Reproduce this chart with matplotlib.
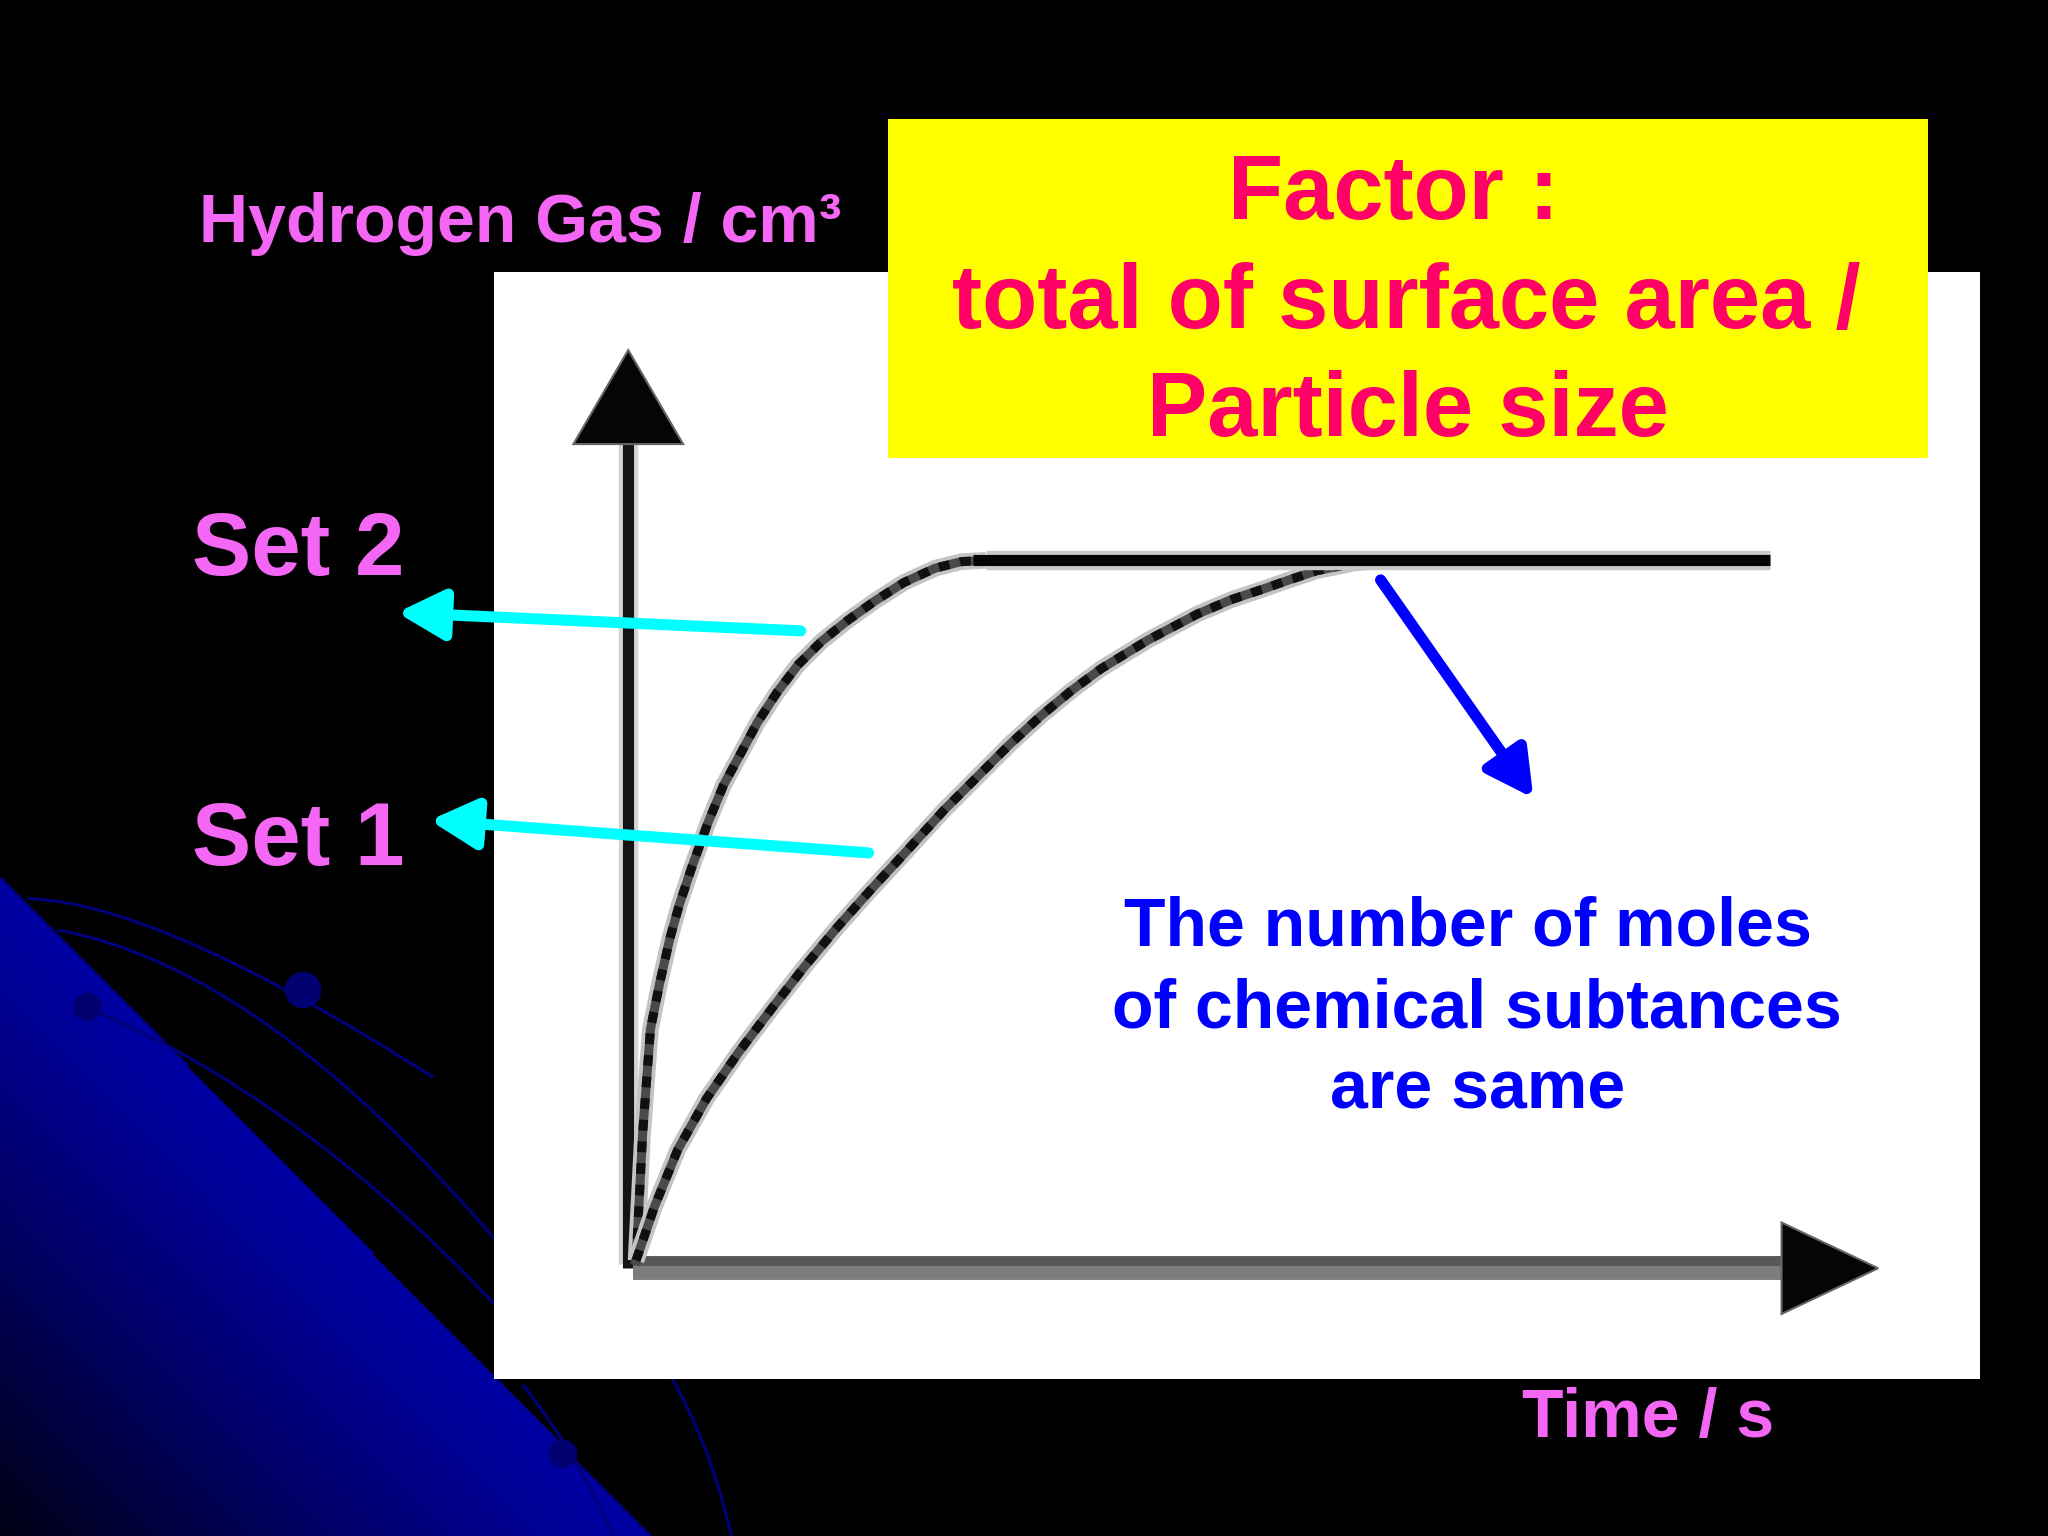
import numpy as np
import matplotlib.pyplot as plt
from matplotlib.patches import Rectangle, Circle, PathPatch
from matplotlib.path import Path

# hydrogen given off against time (s, cm3)
set2_time = [0.6, 1.1, 1.7, 2.4, 3.2, 3.9, 4.9, 6.1, 7.3, 8.6, 9.9, 11.4, 13.0, 14.8, 16.8, 18.9, 21.1, 23.5, 25.5, 27.4]
set2_volume = [0.3, 10.0, 18.0, 21.5, 25.0, 27.5, 30.5, 33.8, 36.7, 39.1, 41.5, 43.8, 45.9, 47.7, 49.3, 50.8, 52.2, 53.3, 53.8, 53.9]
set1_time = [0.6, 2.0, 3.8, 6.0, 8.5, 11.0, 13.5, 16.0, 18.5, 21.0, 24.2, 26.7, 29.2, 31.6, 33.9, 36.2,
             39.8, 43.6, 46.2, 48.6, 50.6, 52.7, 55.6, 58.0]
set1_volume = [0.3, 4.4, 8.8, 12.7, 16.3, 19.6, 22.8, 25.8, 28.6, 31.3, 34.8, 37.3, 39.8, 42.0, 43.9, 45.6,
               47.8, 49.8, 50.9, 51.7, 52.4, 53.1, 53.7, 53.9]
final_volume = 53.9
end_time = 87.4

title_lines = ["Factor :", "total of surface area /", "Particle size"]
note_lines = ["The number of moles", "of chemical subtances", "are same"]

W, H = 1568, 1176  # slide units
PINK = "#F466F4"
FONT = "Liberation Sans"

fig = plt.figure(figsize=(20.48, 15.36), dpi=100, facecolor="black")

# background with the blue corner
bg = fig.add_axes([0, 0, 1, 1])
bg.set_xlim(0, W)
bg.set_ylim(H, 0)
bg.axis("off")
yy, xx = np.mgrid[0:H:2, 0:W:2]
d = (yy - 670 - 1.014 * xx) / 1.424
t = np.clip(d / 355, 0, 1)
img = np.zeros(xx.shape + (4,))
img[..., 2] = 0.64 * (1 - 0.88 * t ** 1.2)
img[..., 3] = (d > 0).astype(float)
bg.imshow(img, extent=(0, W, H, 0), aspect="auto", interpolation="bilinear", zorder=0)

arcs = [
    [(21, 688), (120, 690), (332, 825)],
    [(44, 712), (200, 740), (380, 950)],
    [(68, 772), (230, 840), (380, 1000)],
    [(400, 1060), (440, 1110), (470, 1176)],
    [(515, 1056), (545, 1110), (560, 1176)],
]
for p in arcs:
    path = Path(p, [Path.MOVETO, Path.CURVE3, Path.CURVE3])
    bg.add_patch(PathPatch(path, fc="none", ec="#00007a", lw=2.2, zorder=1))
for cx, cy, r in [(232, 758, 14), (67, 771, 11), (431, 1113, 11)]:
    bg.add_patch(Circle((cx, cy), r, fc="#000070", ec="none", zorder=1))

# chart panel, 10 slide units per data unit in both directions
ax = fig.add_axes([378 / W, 1 - 1056 / H, 1138 / W, 848 / H])
ax.set_facecolor("white")
ax.set_xlim(-10.3, 103.5)
ax.set_ylim(-8.8, 76)
ax.set_xticks([])
ax.set_yticks([])
for s in ax.spines.values():
    s.set_visible(False)

# axes drawn as arrows
ax.plot([0, 0], [0, 64], color="#d4d4d4", lw=14, solid_capstyle="butt")
ax.plot([0, 0], [-0.3, 64], color="#141414", lw=8, solid_capstyle="butt")
ax.arrow(0, 62.8, 0, 7.2, width=0, head_width=8.4, head_length=7.2,
         length_includes_head=True, fc="#050505", ec="#666666", lw=1.5, zorder=3)
ax.plot([0.4, 89], [0.1, 0.1], color="#585858", lw=10, solid_capstyle="butt")
ax.plot([0.4, 89], [-0.7, -0.7], color="#7c7c7c", lw=10, solid_capstyle="butt")
ax.arrow(88.3, -0.3, 7.4, 0, width=0, head_width=7.0, head_length=7.4,
         length_includes_head=True, fc="#050505", ec="#666666", lw=1.5, zorder=3)

# the two reaction curves, pixel-ish checker look
for tt, vv in [(set2_time, set2_volume), (set1_time, set1_volume)]:
    ax.plot(tt, vv, color="#c4c4c4", lw=12, solid_capstyle="butt", solid_joinstyle="round")
    ax.plot(tt, vv, color="#4a4a4a", lw=6.5, solid_joinstyle="round")
    ax.plot(tt, vv, color="#101010", lw=6.5, ls=(0, (1.2, 1.2)))
ax.plot([set2_time[-1], end_time], [final_volume] * 2, color="#c8c8c8", lw=14, solid_capstyle="butt")
ax.plot([set2_time[-1] - 1, end_time], [final_volume] * 2, color="#050505", lw=8, solid_capstyle="butt")

# overlay for labels and callouts
top = fig.add_axes([0, 0, 1, 1])
top.set_xlim(0, W)
top.set_ylim(H, 0)
top.axis("off")
top.patch.set_alpha(0)

top.add_patch(Rectangle((680, 91), 796, 260, fc="#FFFF00", ec="none"))
for txt, x, y in zip(title_lines, [1067, 1077, 1078], [168, 251, 334]):
    top.text(x, y, txt, color="#FF0066", fontsize=65, fontweight="bold",
             family=FONT, ha="center", va="baseline")

top.text(152, 185, "Hydrogen Gas / cm³", color=PINK, fontsize=49,
         fontweight="bold", family=FONT, ha="left", va="baseline")
top.text(147, 440, "Set 2", color=PINK, fontsize=64, fontweight="bold",
         family=FONT, ha="left", va="baseline")
top.text(147, 662, "Set 1", color=PINK, fontsize=64, fontweight="bold",
         family=FONT, ha="left", va="baseline")
top.text(1165, 1100, "Time / s", color=PINK, fontsize=49, fontweight="bold",
         family=FONT, ha="left", va="baseline")

for txt, x, y in zip(note_lines, [1124, 1131, 1131], [724, 787, 849]):
    top.text(x, y, txt, color="#0000FF", fontsize=49, fontweight="bold",
             family=FONT, ha="center", va="baseline")

head = "-|>,head_length=1.4,head_width=0.75"
cyan = dict(arrowstyle=head, color="#00FFFF", lw=8, mutation_scale=20,
            shrinkA=0, shrinkB=0)
top.annotate("", xy=(304, 469), xytext=(613, 483), arrowprops=cyan)
top.annotate("", xy=(329, 628), xytext=(665, 653), arrowprops=cyan)
top.annotate("", xy=(1174, 611), xytext=(1057, 444),
             arrowprops=dict(arrowstyle=head, color="#0000FF", lw=8,
                             mutation_scale=20, shrinkA=0, shrinkB=0))

fig.savefig("out.png", dpi=100, facecolor="black")
